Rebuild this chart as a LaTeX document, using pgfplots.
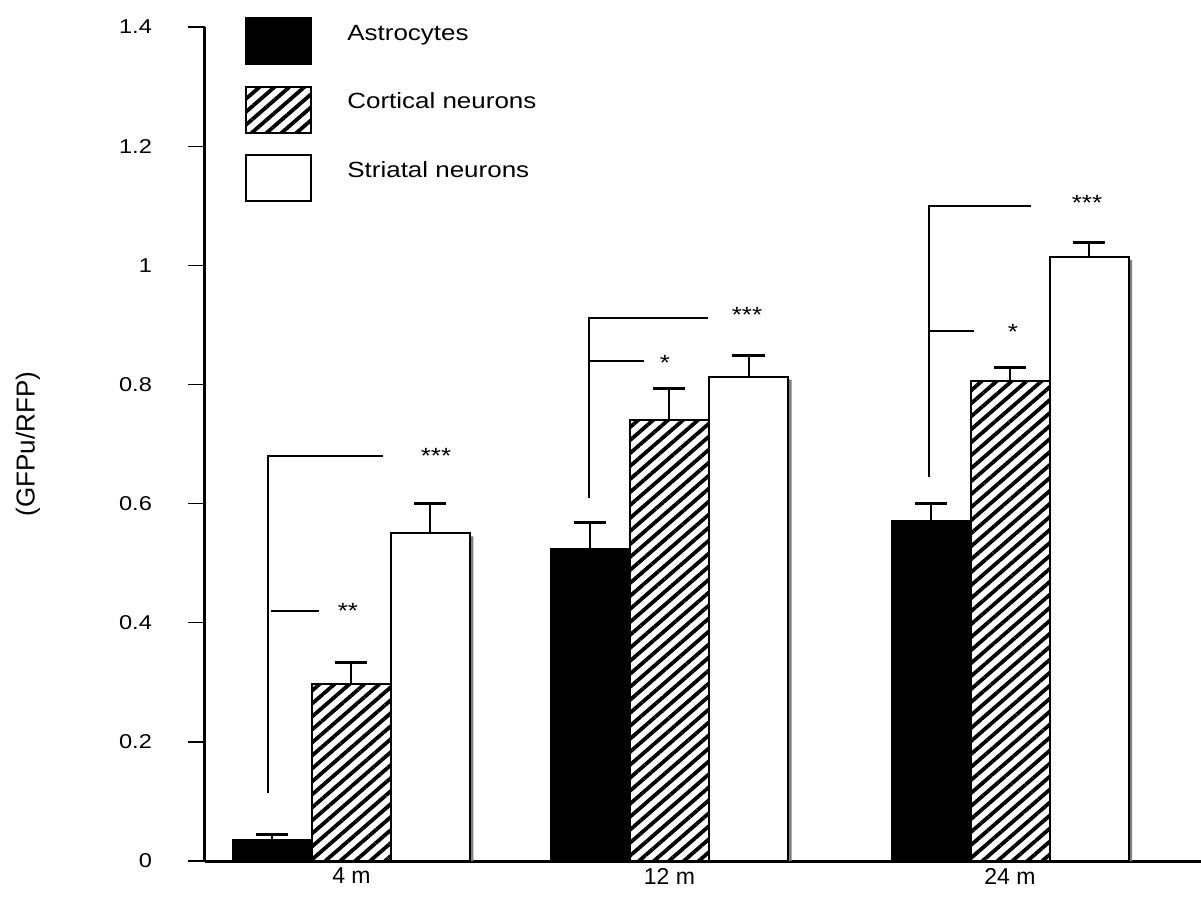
\documentclass[border=0pt]{standalone}
\usepackage{fontspec}
\setmainfont{Liberation Sans}
\newfontfamily\wide{Liberation Sans}[FakeStretch=1.18]
\usepackage{pgfplots}
\usepackage{pgfplotstable}
\pgfplotsset{compat=1.18}
\usetikzlibrary{patterns.meta}

\pgfplotstableread{
x     a     ae    c     ce    s     se    sh
351.5 0.035 0.010 0.297 0.037 0.550 0.051 0.545
669.5 0.524 0.045 0.740 0.054 0.813 0.036 0.808
1010  0.571 0.030 0.806 0.023 1.014 0.025 1.009
}\data

\begin{document}
\begin{tikzpicture}
\begin{axis}[
  name=ax,
  scale only axis,
  width=498pt, height=417pt,
  xmin=205, xmax=1201, ymin=0, ymax=1.4,
  axis x line*=bottom, axis y line*=left,
  axis line style={line width=1.5pt, black},
  ytick={0,0.2,0.4,0.6,0.8,1,1.2,1.4},
  yticklabels={0,0.2,0.4,0.6,0.8,1,1.2,1.4},
  xtick={351.5,669.5,1010},
  xticklabels={4 m,12 m,24 m},
  x tick style={draw=none},
  y tick style={line width=0.6pt, black},
  tick align=outside,
  major tick length=8.5pt,
  yticklabel style={font=\wide\fontsize{10}{11}\selectfont, xshift=-14.5pt},
  xticklabel style={font=\fontsize{11.5}{13}\selectfont, yshift=8.5pt},
  ylabel={(GFPu/RFP)},
  ylabel style={font=\fontsize{13}{15}\selectfont, at={(axis description cs:-0.1777,0.5)}, anchor=center},
  clip=false,
  ybar=0pt, bar width=79,
  legend style={draw=none, fill=none, at={(axis cs:245,1.4168)}, anchor=north west,
    inner sep=0pt, row sep=10.25pt, column sep=17.5pt,
    font=\wide\fontsize{11}{13}\selectfont,
    nodes={inner sep=0pt, anchor=base west}},
  legend image code/.code={\draw[#1, line width=1pt] (0pt,-12.2pt) rectangle (32.5pt,10.8pt);},
  error bars/y dir=plus, error bars/y explicit,
  error bars/error bar style={line width=1pt, black},
  error bars/error mark options={rotate=90, mark size=8pt, line width=1.5pt, black},
]
\addplot[fill=black, draw=black, line width=1pt, bar shift=-79]
  table[x=x, y=a, y error=ae] {\data};
\addlegendentry{Astrocytes}
\addplot[draw=black, line width=1pt, bar shift=0,
  pattern={Lines[angle=41, distance=4.9pt, line width=1.9pt]}]
  table[x=x, y=c, y error=ce] {\data};
\addlegendentry{Cortical neurons}
\addplot[forget plot, fill=gray, draw=none, bar shift=82.5]
  table[x=x, y=sh] {\data};
\addplot[fill=white, draw=black, line width=1pt, bar shift=79]
  table[x=x, y=s, y error=se] {\data};
\addlegendentry{Striatal neurons}

% significance brackets
\draw[line width=1pt] (axis cs:268,0.114) -- (axis cs:268,0.680) -- (axis cs:383,0.680);
\draw[line width=1pt] (axis cs:271,0.420) -- (axis cs:319,0.420);
\node[font=\wide\fontsize{11}{12}\selectfont, inner sep=0pt] at (axis cs:436,0.680) {***};
\node[font=\wide\fontsize{11}{12}\selectfont, inner sep=0pt] at (axis cs:348,0.420) {**};

\draw[line width=1pt] (axis cs:589.5,0.609) -- (axis cs:589.5,0.9115) -- (axis cs:708,0.9115);
\draw[line width=1pt] (axis cs:590,0.8394) -- (axis cs:644,0.8394);
\node[font=\wide\fontsize{11}{12}\selectfont, inner sep=0pt] at (axis cs:747,0.9166) {***};
\node[font=\wide\fontsize{11}{12}\selectfont, inner sep=0pt] at (axis cs:665,0.836) {*};

\draw[line width=1pt] (axis cs:929,0.6446) -- (axis cs:929,1.0995) -- (axis cs:1031,1.0995);
\draw[line width=1pt] (axis cs:929,0.8897) -- (axis cs:974,0.8897);
\node[font=\wide\fontsize{11}{12}\selectfont, inner sep=0pt] at (axis cs:1087,1.1046) {***};
\node[font=\wide\fontsize{11}{12}\selectfont, inner sep=0pt] at (axis cs:1013,0.888) {*};

\coordinate (bbsw) at (axis cs:0,-0.0604);
\coordinate (bbne) at (axis cs:1201,1.4454);
\end{axis}
\pgfresetboundingbox
\path[use as bounding box] (bbsw) rectangle (bbne);
\end{tikzpicture}
\end{document}
